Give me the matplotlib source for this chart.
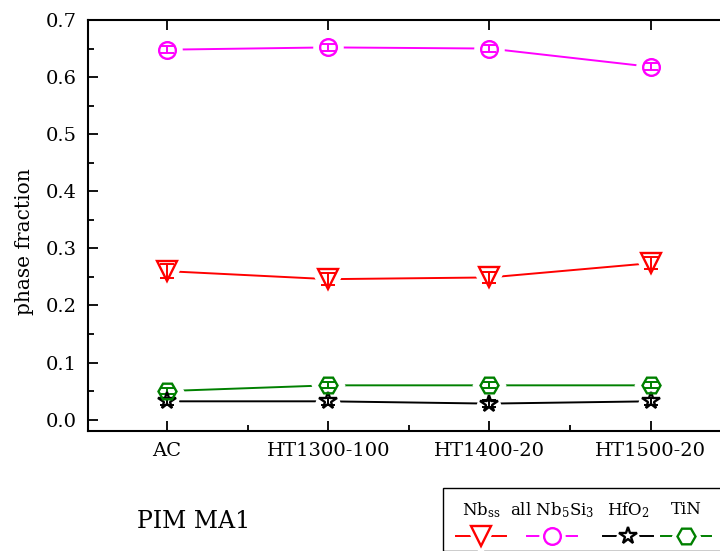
import matplotlib
matplotlib.use("Agg")
import matplotlib.pyplot as plt
from matplotlib.lines import Line2D
from matplotlib.patches import Rectangle
import numpy as np

plt.rcParams['font.family'] = ['DejaVu Serif']
plt.rcParams['mathtext.fontset'] = 'dejavuserif'

conditions = ["AC", "HT1300-100", "HT1400-20", "HT1500-20"]

nbss = [0.260, 0.246, 0.249, 0.274]
nbss_err = [0.012, 0.010, 0.010, 0.010]
nb5si3 = [0.648, 0.652, 0.650, 0.618]
nb5si3_err = [0.006, 0.006, 0.006, 0.006]
hfo2 = [0.032, 0.032, 0.028, 0.032]
hfo2_err = [0.006, 0.006, 0.006, 0.006]
tin = [0.050, 0.060, 0.060, 0.060]
tin_err = [0.005, 0.005, 0.005, 0.005]

series = [
    (r"Nb$_\mathregular{ss}$", nbss, nbss_err, "#ff0000", "v", 14),
    (r"all Nb$_\mathregular{5}$Si$_\mathregular{3}$", nb5si3, nb5si3_err, "#ff00ff", "o", 12),
    (r"HfO$_\mathregular{2}$", hfo2, hfo2_err, "#000000", "*", 13),
    ("TiN", tin, tin_err, "#008000", "H", 13),
]

fig = plt.figure(figsize=(7.2, 5.51), dpi=100)
# plot area runs right up to the edge of the canvas
ax = fig.add_axes([88 / 720, 120 / 551, 632 / 720, 411 / 551])

x = np.arange(len(conditions))

# connecting lines
for label, y, e, c, m, ms in series:
    ax.plot(x, y, color=c, lw=1.4, zorder=1)
# white halos to open a gap in the lines around every marker
for label, y, e, c, m, ms in series:
    ax.plot(x, y, ls="none", marker=m, ms=ms, mfc="white", mec="white",
            mew=10, zorder=2)
# error bars and hollow markers
for label, y, e, c, m, ms in series:
    ax.errorbar(x, y, yerr=e, fmt="none", ecolor=c, elinewidth=1.4,
                capsize=5, capthick=1.4, zorder=3)
    ax.plot(x, y, ls="none", marker=m, ms=ms, mfc="none", mec=c, mew=1.7,
            zorder=4)

ax.set_xlim(-0.49, 3.43)
ax.set_ylim(-0.02, 0.7)
ax.set_xticks(x)
ax.set_xticklabels(conditions)
ax.set_xticks(x[:-1] + 0.5, minor=True)
ax.set_yticks(np.arange(0, 0.71, 0.1))
ax.set_yticklabels([f"{v:.1f}" for v in np.arange(0, 0.71, 0.1)])
ax.set_yticks(np.arange(0.05, 0.7, 0.1), minor=True)
ax.tick_params(axis="both", which="major", direction="in", length=7,
               width=1.3, labelsize=14, pad=8)
ax.tick_params(axis="both", which="minor", direction="in", length=4,
               width=1.3)
ax.tick_params(axis="x", which="both", top=True)
ax.tick_params(axis="x", which="minor", top=False)
for s in ax.spines.values():
    s.set_linewidth(1.5)
ax.spines["right"].set_visible(False)
ax.set_ylabel("phase fraction", fontsize=14.5)
ax.yaxis.set_label_coords(-0.085, 0.46)

fig.text(137 / 720, 1 - 522 / 551, "PIM MA1", fontsize=17, va="center",
         ha="left")

# legend box with the label above each sample
box = Rectangle((443 / 720, 0), 290 / 720, 1 - 488 / 551,
                transform=fig.transFigure, fill=False, ec="black", lw=1.0)
fig.add_artist(box)
centers = [481, 552, 628, 686]
for (label, y, e, c, m, ms), cx in zip(series, centers):
    fig.text(cx / 720, 1 - 510 / 551, label, fontsize=12, ha="center",
             va="center")
    ly = 1 - 536 / 551
    fig.add_artist(Line2D([(cx - 25) / 720, (cx + 25) / 720], [ly, ly],
                          transform=fig.transFigure, color=c, lw=1.4))
    fig.add_artist(Line2D([cx / 720], [ly], transform=fig.transFigure,
                          ls="none", marker=m, ms=ms, mfc="white", mec="white",
                          mew=7))
    fig.add_artist(Line2D([cx / 720], [ly], transform=fig.transFigure,
                          ls="none", marker=m, ms=ms, mfc="none", mec=c,
                          mew=1.7))

fig.savefig("out.png", dpi=100)
